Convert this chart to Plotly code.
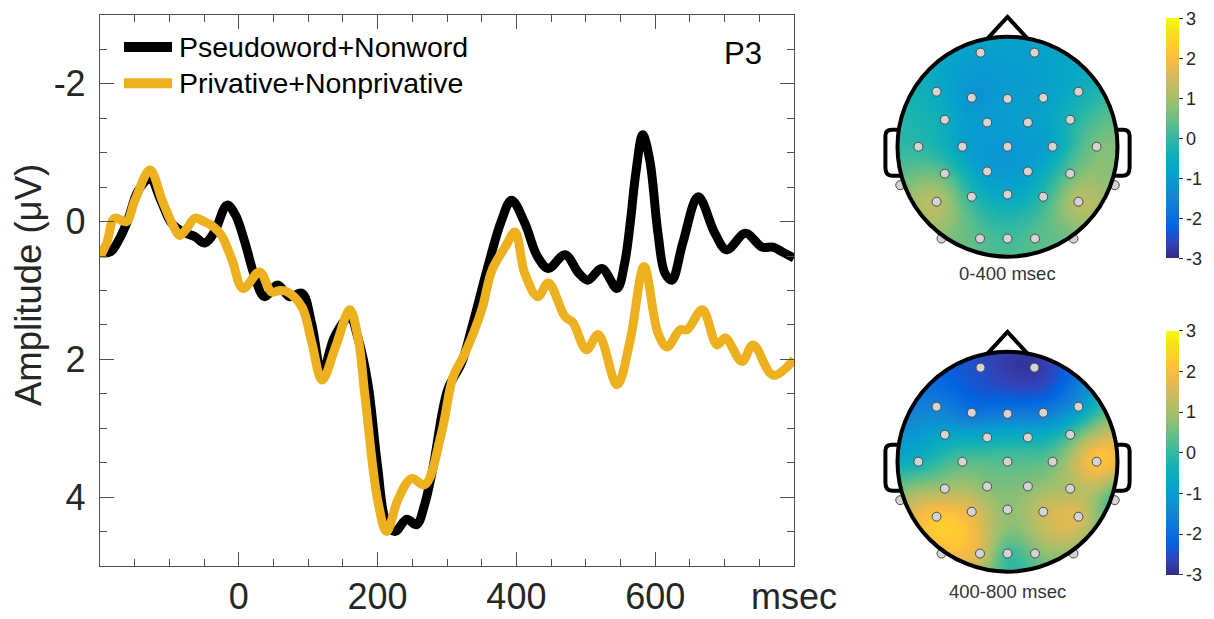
import numpy as np
import plotly.graph_objects as go

# ---------------------------------------------------------------- ERP waveforms (P3)
T_PSEUDO = [-200, -185, -172, -160, -145, -128, -112, -97, -80, -63, -49, -35, -17, -5,
            9, 23, 37, 56, 73, 91, 105, 120, 138, 160, 172, 186, 200, 212, 225, 242,
            256, 268, 280, 301, 321, 336, 359, 378, 393, 412, 430, 446, 470, 490, 503,
            523, 545, 556, 564, 572, 582, 592, 604, 614, 624, 640, 662, 686, 703, 730,
            754, 770, 785, 800]
AMP_PSEUDO = [0.45, 0.44, 0.25, -0.02, -0.45, -0.62, -0.30, 0.02, 0.15, 0.22, 0.31, 0.15,
              -0.24, -0.10, 0.31, 0.80, 1.09, 0.92, 1.09, 1.04, 1.48, 2.20, 1.67, 1.38,
              1.70, 2.35, 3.56, 4.35, 4.50, 4.32, 4.40, 4.10, 3.56, 2.44, 2.05, 1.53,
              0.65, 0.00, -0.31, 0.02, 0.50, 0.68, 0.48, 0.75, 0.85, 0.68, 0.97, 0.60,
              0.02, -0.70, -1.26, -0.90, 0.17, 0.75, 0.85, 0.30, -0.36, 0.17, 0.41,
              0.17, 0.37, 0.37, 0.45, 0.53]

T_PRIV = [-200, -190, -179, -162, -150, -128, -110, -95, -85, -75, -63, -50, -37, -25,
          -10, 6, 30, 47, 60, 70, 91, 105, 120, 140, 160, 172, 182, 200, 213, 230, 249,
          268, 292, 309, 326, 350, 365, 385, 398, 412, 431, 446, 470, 481, 501, 518,
          545, 564, 584, 604, 617, 636, 646, 668, 689, 701, 725, 741, 770, 800]
AMP_PRIV = [0.51, 0.30, -0.05, 0.00, -0.30, -0.75, -0.30, 0.05, 0.20, 0.10, -0.05, 0.00,
            0.07, 0.20, 0.55, 0.97, 0.73, 1.02, 1.00, 1.02, 1.24, 1.75, 2.30, 1.80, 1.28,
            1.70, 2.55, 4.04, 4.50, 4.02, 3.73, 3.82, 3.07, 2.25, 1.91, 1.28, 0.70, 0.35,
            0.15, 0.75, 1.09, 0.89, 1.38, 1.46, 1.86, 1.64, 2.37, 1.72, 0.65, 1.62, 1.82,
            1.57, 1.57, 1.28, 1.79, 1.69, 2.03, 1.79, 2.23, 2.00]

SERIES_NAMES = ["Pseudoword+Nonword", "Privative+Nonprivative"]
SERIES_COLORS = ["#000000", "#EDB120"]

X_TICKS = [0, 200, 400, 600, 800]
X_TICK_TEXT = ["0", "200", "400", "600", "msec"]
Y_TICKS = [-2, 0, 2, 4]
Y_TICK_TEXT = ["-2", "0", "2", "4"]

# ---------------------------------------------------------------- scalp maps
CHANNELS = ["Fp1", "Fp2", "F7", "F3", "Fz", "F4", "F8", "FC5", "FC1", "FC2", "FC6",
            "T7", "C3", "Cz", "C4", "T8", "CP5", "CP1", "CP2", "CP6", "TP9", "P7", "P3",
            "Pz", "P4", "P8", "TP10", "PO9", "O1", "Oz", "O2", "PO10"]
CH_X = [-0.245, 0.245, -0.645, -0.325, 0.0, 0.325, 0.645, -0.57, -0.185, 0.185, 0.57,
        -0.81, -0.41, 0.0, 0.41, 0.81, -0.57, -0.185, 0.185, 0.57, -0.975, -0.645, -0.325,
        0.0, 0.325, 0.645, 0.975, -0.60, -0.25, 0.0, 0.25, 0.60]
CH_Y = [0.855, 0.855, 0.50, 0.445, 0.435, 0.445, 0.50, 0.245, 0.22, 0.22, 0.245,
        0.0, 0.0, 0.0, 0.0, 0.0, -0.245, -0.225, -0.225, -0.245, -0.35, -0.50, -0.455,
        -0.435, -0.455, -0.50, -0.35, -0.835, -0.835, -0.835, -0.835, -0.835]
MAP_EARLY = [-0.9, -0.9, -0.6, -1.2, -1.0, -0.9, -0.5, -0.5, -1.0, -0.9, -0.3,
             -0.1, -0.9, -1.1, -0.8, 0.6, 0.3, -1.0, -0.9, 0.4, 0.5, 1.2, -0.1,
             -0.7, -0.1, 1.2, 0.7, 0.7, 0.3, 0.1, 0.3, 0.5]
MAP_LATE = [-2.5, -2.8, -1.6, -1.9, -1.7, -1.7, -1.1, -0.8, -0.6, -0.5, 0.1,
            -0.4, 0.3, 0.3, 0.5, 2.2, 1.0, 0.7, 0.7, 1.1, 1.0, 2.2, 1.7,
            0.8, 1.4, 1.6, 0.0, 1.9, 1.6, 0.1, 0.6, 0.8]
MAP_TITLES = ["0-400 msec", "400-800 msec"]
CBAR_TICKS = [-3, -2, -1, 0, 1, 2, 3]
CBAR_TEXT = ["-3", "-2", "-1", "0", "1", "2", "3"]

PARULA = [
    [0.2081, 0.1663, 0.5292], [0.1959, 0.2645, 0.7279], [0.0117, 0.3875, 0.8820],
    [0.0498, 0.4586, 0.8641], [0.0793, 0.5200, 0.8312], [0.0343, 0.5966, 0.8199],
    [0.0228, 0.6535, 0.7768], [0.0843, 0.6928, 0.7062], [0.2178, 0.7250, 0.6193],
    [0.3953, 0.7459, 0.5244], [0.5709, 0.7485, 0.4494], [0.7184, 0.7411, 0.3905],
    [0.8507, 0.7299, 0.3360], [0.9739, 0.7314, 0.2666], [0.9990, 0.7653, 0.2164],
    [0.9880, 0.8066, 0.1794], [0.9589, 0.8949, 0.1132], [0.9763, 0.9831, 0.0538]]
PARULA_POS = [0, 4, 8, 12, 16, 20, 24, 28, 32, 36, 40, 44, 48, 52, 54, 56, 60, 63]
COLORSCALE = [[p / 63.0, "rgb(%d,%d,%d)" % tuple(int(round(c * 255)) for c in rgb)]
              for p, rgb in zip(PARULA_POS, PARULA)]

W, H = 1214, 619
HEAD_UNIT = 110.0          # pixels per head radius


def fx(px):
    return px / W


def fy(py):
    return 1 - py / H


def biharmonic_grid(xe, ye, ve, n=241):
    """Biharmonic-spline surface through the electrode values (griddata 'v4')."""
    xe, ye, ve = map(np.asarray, (xe, ye, ve))
    d = np.hypot(xe[:, None] - xe[None, :], ye[:, None] - ye[None, :])
    with np.errstate(divide="ignore", invalid="ignore"):
        G = np.where(d > 0, d ** 2 * (np.log(d) - 1), 0.0)
    w = np.linalg.solve(G, ve)
    g = np.linspace(-1, 1, n)
    gx, gy = np.meshgrid(g, g)
    dg = np.hypot(gx[..., None] - xe, gy[..., None] - ye)
    with np.errstate(divide="ignore", invalid="ignore"):
        Gg = np.where(dg > 0, dg ** 2 * (np.log(dg) - 1), 0.0)
    z = Gg @ w
    z[np.hypot(gx, gy) > 1.0] = np.nan
    return g, z


fig = go.Figure()

for t, a, name, col in zip([T_PSEUDO, T_PRIV], [AMP_PSEUDO, AMP_PRIV],
                           SERIES_NAMES, SERIES_COLORS):
    fig.add_trace(go.Scatter(x=t, y=a, name=name, mode="lines",
                             line=dict(color=col, width=9, shape="spline", smoothing=1.0),
                             showlegend=False, xaxis="x", yaxis="y"))

# head geometry (pixel centres)
HEADS = [dict(cx=1007.5, cy=146.7, cb_y=138.3, cb_len=240, title_y=273.5),
         dict(cx=1007.5, cy=461.7, cb_y=452.8, cb_len=244, title_y=591.0)]
half = 140.0 / HEAD_UNIT

shapes = []
annotations = []
axis_layout = {}

for i, (vals, title, hd) in enumerate(zip([MAP_EARLY, MAP_LATE], MAP_TITLES, HEADS)):
    xa, ya = "x%d" % (i + 2), "y%d" % (i + 2)
    g, z = biharmonic_grid(CH_X, CH_Y, vals)
    fig.add_trace(go.Heatmap(
        x=g, y=g, z=z, xaxis=xa, yaxis=ya, colorscale=COLORSCALE, zmin=-3, zmax=3,
        zsmooth=False, hoverinfo="skip",
        colorbar=dict(x=fx(1166), xanchor="left", y=fy(hd["cb_y"]), yanchor="middle",
                      len=hd["cb_len"], lenmode="pixels", thickness=13, xpad=0, ypad=0,
                      outlinewidth=0, tickvals=CBAR_TICKS, ticktext=CBAR_TEXT,
                      ticks="outside", ticklen=4, tickcolor="#333333",
                      tickfont=dict(family="Liberation Sans, Arial", size=18,
                                    color="#262626"))))
    fig.add_trace(go.Scatter(
        x=CH_X, y=CH_Y, text=CHANNELS, mode="markers", xaxis=xa, yaxis=ya,
        marker=dict(size=9, color="#d4d4d4", line=dict(color="#4a4a4a", width=1)),
        showlegend=False, hoverinfo="text"))

    axis_layout["xaxis%d" % (i + 2)] = dict(
        domain=[fx(hd["cx"] - 140), fx(hd["cx"] + 140)], range=[-half, half],
        visible=False, anchor=ya, fixedrange=True)
    axis_layout["yaxis%d" % (i + 2)] = dict(
        domain=[fy(hd["cy"] + 140), fy(hd["cy"] - 140)], range=[-half, half],
        visible=False, anchor=xa, fixedrange=True)

    # head outline, nose and ears
    shapes.append(dict(type="circle", xref=xa, yref=ya, x0=-1, x1=1, y0=-1, y1=1,
                       line=dict(color="black", width=4)))
    shapes.append(dict(type="path", xref=xa, yref=ya,
                       path="M -0.18,0.985 L 0,1.18 L 0.18,0.985",
                       line=dict(color="black", width=4)))
    for s in (-1, 1):
        ear = ("M {a},0.155 L {b},0.155 Q {c},0.155 {c},0.10 L {c},-0.19 "
               "Q {c},-0.265 {b},-0.265 L {d},-0.265").format(
            a=s * 0.985, b=s * 1.05, c=s * 1.11, d=s * 0.963)
        shapes.append(dict(type="path", xref=xa, yref=ya, path=ear,
                           line=dict(color="black", width=4)))
    annotations.append(dict(text=title, x=fx(hd["cx"]), y=fy(hd["title_y"]),
                            xref="paper", yref="paper", showarrow=False,
                            xanchor="center", yanchor="middle",
                            font=dict(family="Liberation Sans, Arial", size=18.5,
                                      color="#333333")))

# legend drawn inside the ERP axes
LEG_ROWS = [47, 83.3]
for name, col, yy in zip(SERIES_NAMES, SERIES_COLORS, LEG_ROWS):
    shapes.append(dict(type="line", xref="paper", yref="paper", x0=fx(124), x1=fx(172),
                       y0=fy(yy), y1=fy(yy), line=dict(color=col, width=10)))
    annotations.append(dict(text=name, x=fx(177), y=fy(yy), xref="paper", yref="paper",
                            showarrow=False, xanchor="left", yanchor="middle",
                            font=dict(family="Liberation Sans, Arial", size=28.5,
                                      color="#000000")))

annotations.append(dict(text="P3", x=fx(743), y=fy(53), xref="paper", yref="paper",
                        showarrow=False, xanchor="center", yanchor="middle",
                        font=dict(family="Liberation Sans, Arial", size=31, color="#000000")))
annotations.append(dict(text="Amplitude (μV)", x=fx(28), y=fy(285), xref="paper",
                        yref="paper", showarrow=False, textangle=-90,
                        xanchor="center", yanchor="middle",
                        font=dict(family="Liberation Sans, Arial", size=36.5,
                                  color="#262626")))

AX_COL = "#505050"
fig.update_layout(
    width=W, height=H, autosize=False,
    margin=dict(l=0, r=0, t=0, b=0, pad=0, autoexpand=False),
    paper_bgcolor="white", plot_bgcolor="white", showlegend=False,
    xaxis=dict(domain=[fx(100), fx(794)], range=[-200, 800], anchor="y",
               tickvals=X_TICKS, ticktext=X_TICK_TEXT, ticks="inside", ticklen=14,
               tickwidth=1.3, tickcolor=AX_COL, showline=True, linecolor=AX_COL,
               linewidth=1.3, mirror="ticks", showgrid=False, zeroline=False,
               ticklabelstandoff=-1, automargin=False,
               minor=dict(dtick=50, tick0=0, ticks="inside", ticklen=7, tickwidth=1.3,
                          tickcolor=AX_COL, showgrid=False),
               tickfont=dict(family="Liberation Sans, Arial", size=36, color="#262626")),
    yaxis=dict(domain=[fy(566), fy(15)], range=[5, -3], anchor="x",
               tickvals=Y_TICKS, ticktext=Y_TICK_TEXT, ticks="inside", ticklen=14,
               tickwidth=1.3, tickcolor=AX_COL, showline=True, linecolor=AX_COL,
               linewidth=1.3, mirror="ticks", showgrid=False, zeroline=False,
               ticklabelstandoff=6, automargin=False,
               minor=dict(dtick=0.5, tick0=0, ticks="inside", ticklen=7, tickwidth=1.3,
                          tickcolor=AX_COL, showgrid=False),
               tickfont=dict(family="Liberation Sans, Arial", size=36, color="#262626")),
    shapes=shapes, annotations=annotations, **axis_layout)

fig.write_html(
    "out.html",
    config={"responsive": False, "displayModeBar": False},
    post_script="document.body.style.margin='0';document.body.style.overflow='hidden';")
